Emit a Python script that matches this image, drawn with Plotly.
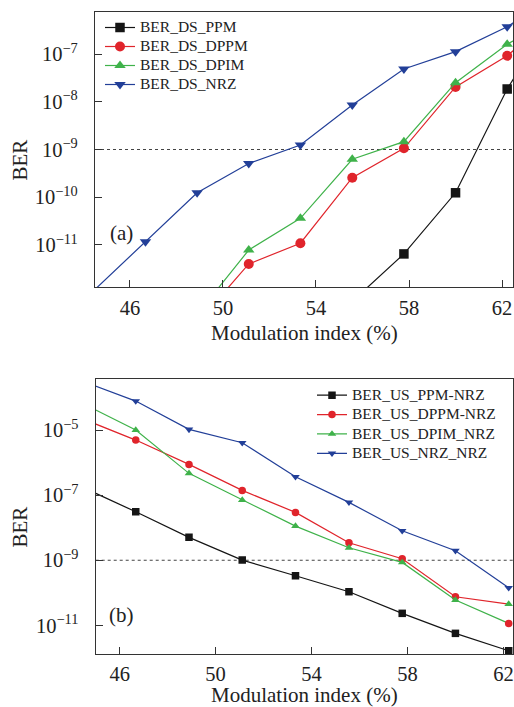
import plotly.graph_objects as go

# ---------------- data ----------------
MOD_INDEX_DS = [44.44, 46.67, 48.89, 51.11, 53.33, 55.56, 57.78, 60.0, 62.22, 64.44]
BER_DS_PPM = [None, None, None, None, None, 6.6e-13, 6.5e-12, 1.24e-10, 1.85e-8, 1.0e-6]
BER_DS_DPPM = [None, None, 2.3e-13, 4.0e-12, 1.09e-11, 2.57e-10, 1.06e-9, 2.04e-8, 9.2e-8, 7.4e-7]
BER_DS_DPIM = [None, None, 3.5e-13, 7.85e-12, 3.62e-11, 6.24e-10, 1.46e-9, 2.51e-8, 1.6e-7, 6.5e-7]
BER_DS_NRZ = [1.1e-12, 1.17e-11, 1.24e-10, 5.1e-10, 1.24e-9, 8.55e-9, 4.85e-8, 1.12e-7, 3.73e-7, 1.86e-6]

MOD_INDEX_US = [44.44, 46.67, 48.89, 51.11, 53.33, 55.56, 57.78, 60.0, 62.22]
BER_US_PPM_NRZ = [1.76e-7, 3.09e-8, 5.06e-9, 1.01e-9, 3.34e-10, 1.08e-10, 2.34e-11, 5.68e-12, 1.66e-12]
BER_US_DPPM_NRZ = [2.24e-5, 4.93e-6, 8.83e-7, 1.4e-7, 2.96e-8, 3.45e-9, 1.11e-9, 7.57e-11, 4.5e-11]
BER_US_DPIM_NRZ = [6.7e-5, 1.0e-5, 4.68e-7, 7.08e-8, 1.12e-8, 2.42e-9, 8.6e-10, 5.98e-11, 1.15e-11]
BER_US_NRZ_NRZ = [3.2e-4, 7.78e-5, 1.05e-5, 4.07e-6, 3.67e-7, 6.01e-8, 8.05e-9, 1.96e-9, 1.43e-10]

BER_THRESHOLD = 1e-9

X_TICKS = [46, 50, 54, 58, 62]
TOP_Y_TICKS = [1e-11, 1e-10, 1e-9, 1e-8, 1e-7]
TOP_Y_TICKTEXT = ["10<sup>−11</sup>", "10<sup>−10</sup>", "10<sup>−9</sup>", "10<sup>−8</sup>", "10<sup>−7</sup>"]
BOT_Y_TICKS = [1e-11, 1e-9, 1e-7, 1e-5]
BOT_Y_TICKTEXT = ["10<sup>−11</sup>", "10<sup>−9</sup>", "10<sup>−7</sup>", "10<sup>−5</sup>"]

# ---------------- style ----------------
W, H = 514, 707
FONT = "Liberation Serif"
BLACK = "#151515"
RED = "#e0242b"
GREEN = "#3fb24a"
BLUE = "#223f98"
FRAME = "#333333"
LEGEND_TEXT_PX = 15.5

fig = go.Figure()

def label(name):
    return f'<span style="font-size:{LEGEND_TEXT_PX}px">{name}</span>'

def add(x, y, name, color, symbol, size, xa, ya, legend, msym=None, mcol=None):
    fig.add_trace(go.Scatter(
        x=x, y=y, name=label(name), mode="lines+markers",
        line=dict(color=color, width=1.2),
        marker=dict(symbol=msym if msym else symbol, size=size,
                    color=mcol if mcol else color, line=dict(width=0)),
        xaxis=xa, yaxis=ya, legend=legend,
    ))

# top panel
add(MOD_INDEX_DS, BER_DS_PPM, "BER_DS_PPM", BLACK, "square", 9.5, "x", "y", "legend")
add(MOD_INDEX_DS, BER_DS_DPPM, "BER_DS_DPPM", RED, "circle", 10, "x", "y", "legend")
add(MOD_INDEX_DS, BER_DS_DPIM, "BER_DS_DPIM", GREEN, "triangle-up", 10, "x", "y", "legend")
add(MOD_INDEX_DS, BER_DS_NRZ, "BER_DS_NRZ", BLUE, "triangle-down", 10, "x", "y", "legend")

# bottom panel (the last two markers of DPPM/DPIM are swapped in the original)
n = len(MOD_INDEX_US)
add(MOD_INDEX_US, BER_US_PPM_NRZ, "BER_US_PPM-NRZ", BLACK, "square", 7.5, "x2", "y2", "legend2")
add(MOD_INDEX_US, BER_US_DPPM_NRZ, "BER_US_DPPM-NRZ", RED, "circle", 7.5, "x2", "y2", "legend2",
    msym=["circle"] * (n - 1) + ["triangle-up"], mcol=[RED] * (n - 1) + [GREEN])
add(MOD_INDEX_US, BER_US_DPIM_NRZ, "BER_US_DPIM_NRZ", GREEN, "triangle-up", 7.5, "x2", "y2", "legend2",
    msym=["triangle-up"] * (n - 1) + ["circle"], mcol=[GREEN] * (n - 1) + [RED])
add(MOD_INDEX_US, BER_US_NRZ_NRZ, "BER_US_NRZ_NRZ", BLUE, "triangle-down", 7.5, "x2", "y2", "legend2")

def px_x(p):
    return p / W

def px_y(p):
    return 1 - p / H

axis_common = dict(
    showline=True, linecolor=FRAME, linewidth=1.4, mirror=True,
    ticks="inside", ticklen=7, tickwidth=1.2, tickcolor=FRAME,
    showgrid=False, zeroline=False, automargin=False,
    tickfont=dict(family=FONT, size=20.5, color="#222"),
)

TOP_L, TOP_R, TOP_T, TOP_B = 95, 513, 12, 287
BOT_L, BOT_R, BOT_T, BOT_B = 95.7, 513, 379.3, 654

fig.update_layout(
    width=W, height=H,
    margin=dict(l=0, r=0, t=0, b=0, autoexpand=False),
    paper_bgcolor="white", plot_bgcolor="white",
    font=dict(family=FONT, color="#222"),
    xaxis=dict(axis_common, domain=[px_x(TOP_L), px_x(TOP_R)], range=[44.5, 62.47],
               tickvals=X_TICKS, anchor="y", ticklabelstandoff=2),
    yaxis=dict(axis_common, domain=[px_y(TOP_B), px_y(TOP_T)], type="log", range=[-11.88, -6.12],
               tickvals=TOP_Y_TICKS, ticktext=TOP_Y_TICKTEXT, anchor="x", ticklabelstandoff=12),
    xaxis2=dict(axis_common, domain=[px_x(BOT_L), px_x(BOT_R)], range=[45.0, 62.4],
                tickvals=X_TICKS, anchor="y2", ticklabelstandoff=1),
    yaxis2=dict(axis_common, domain=[px_y(BOT_B), px_y(BOT_T)], type="log", range=[-11.88, -3.44],
                tickvals=BOT_Y_TICKS, ticktext=BOT_Y_TICKTEXT, anchor="x2", ticklabelstandoff=12),
    legend=dict(x=px_x(100), y=px_y(13), xanchor="left", yanchor="top",
                bgcolor="rgba(0,0,0,0)", font=dict(family=FONT, size=11.2, color="#222"),
                tracegroupgap=0, itemwidth=30),
    legend2=dict(x=px_x(312), y=px_y(380.5), xanchor="left", yanchor="top",
                 bgcolor="rgba(0,0,0,0)", font=dict(family=FONT, size=12.6, color="#222"),
                 tracegroupgap=0, itemwidth=30),
    showlegend=True,
)

# BER threshold lines
for xr, yr in (("x", "y"), ("x2", "y2")):
    fig.add_shape(type="line", xref=f"{xr} domain", yref=yr, x0=0, x1=1,
                  y0=BER_THRESHOLD, y1=BER_THRESHOLD,
                  line=dict(color="#444", width=1.2, dash="dot"), layer="below")

ann_font = dict(family=FONT, size=21, color="#222")
ann_common = dict(showarrow=False, font=ann_font, xanchor="center", yanchor="middle")
fig.add_annotation(text="(a)", xref="x domain", yref="y domain", x=0.064, y=0.196, **ann_common)
fig.add_annotation(text="(b)", xref="x2 domain", yref="y2 domain", x=0.062, y=0.142, **ann_common)
# axis titles
fig.add_annotation(text="BER", xref="paper", yref="paper", x=px_x(19.5), y=px_y(160),
                   textangle=-90, **ann_common)
fig.add_annotation(text="BER", xref="paper", yref="paper", x=px_x(19.5), y=px_y(527),
                   textangle=-90, **ann_common)
fig.add_annotation(text="Modulation index (%)", xref="paper", yref="paper", x=px_x(304), y=px_y(333),
                   **ann_common)
fig.add_annotation(text="Modulation index (%)", xref="paper", yref="paper", x=px_x(304), y=px_y(694.5),
                   **ann_common)

fig.write_html("out.html", config={"displayModeBar": False},
               post_script="document.body.style.margin='0';document.body.style.overflow='hidden';")
